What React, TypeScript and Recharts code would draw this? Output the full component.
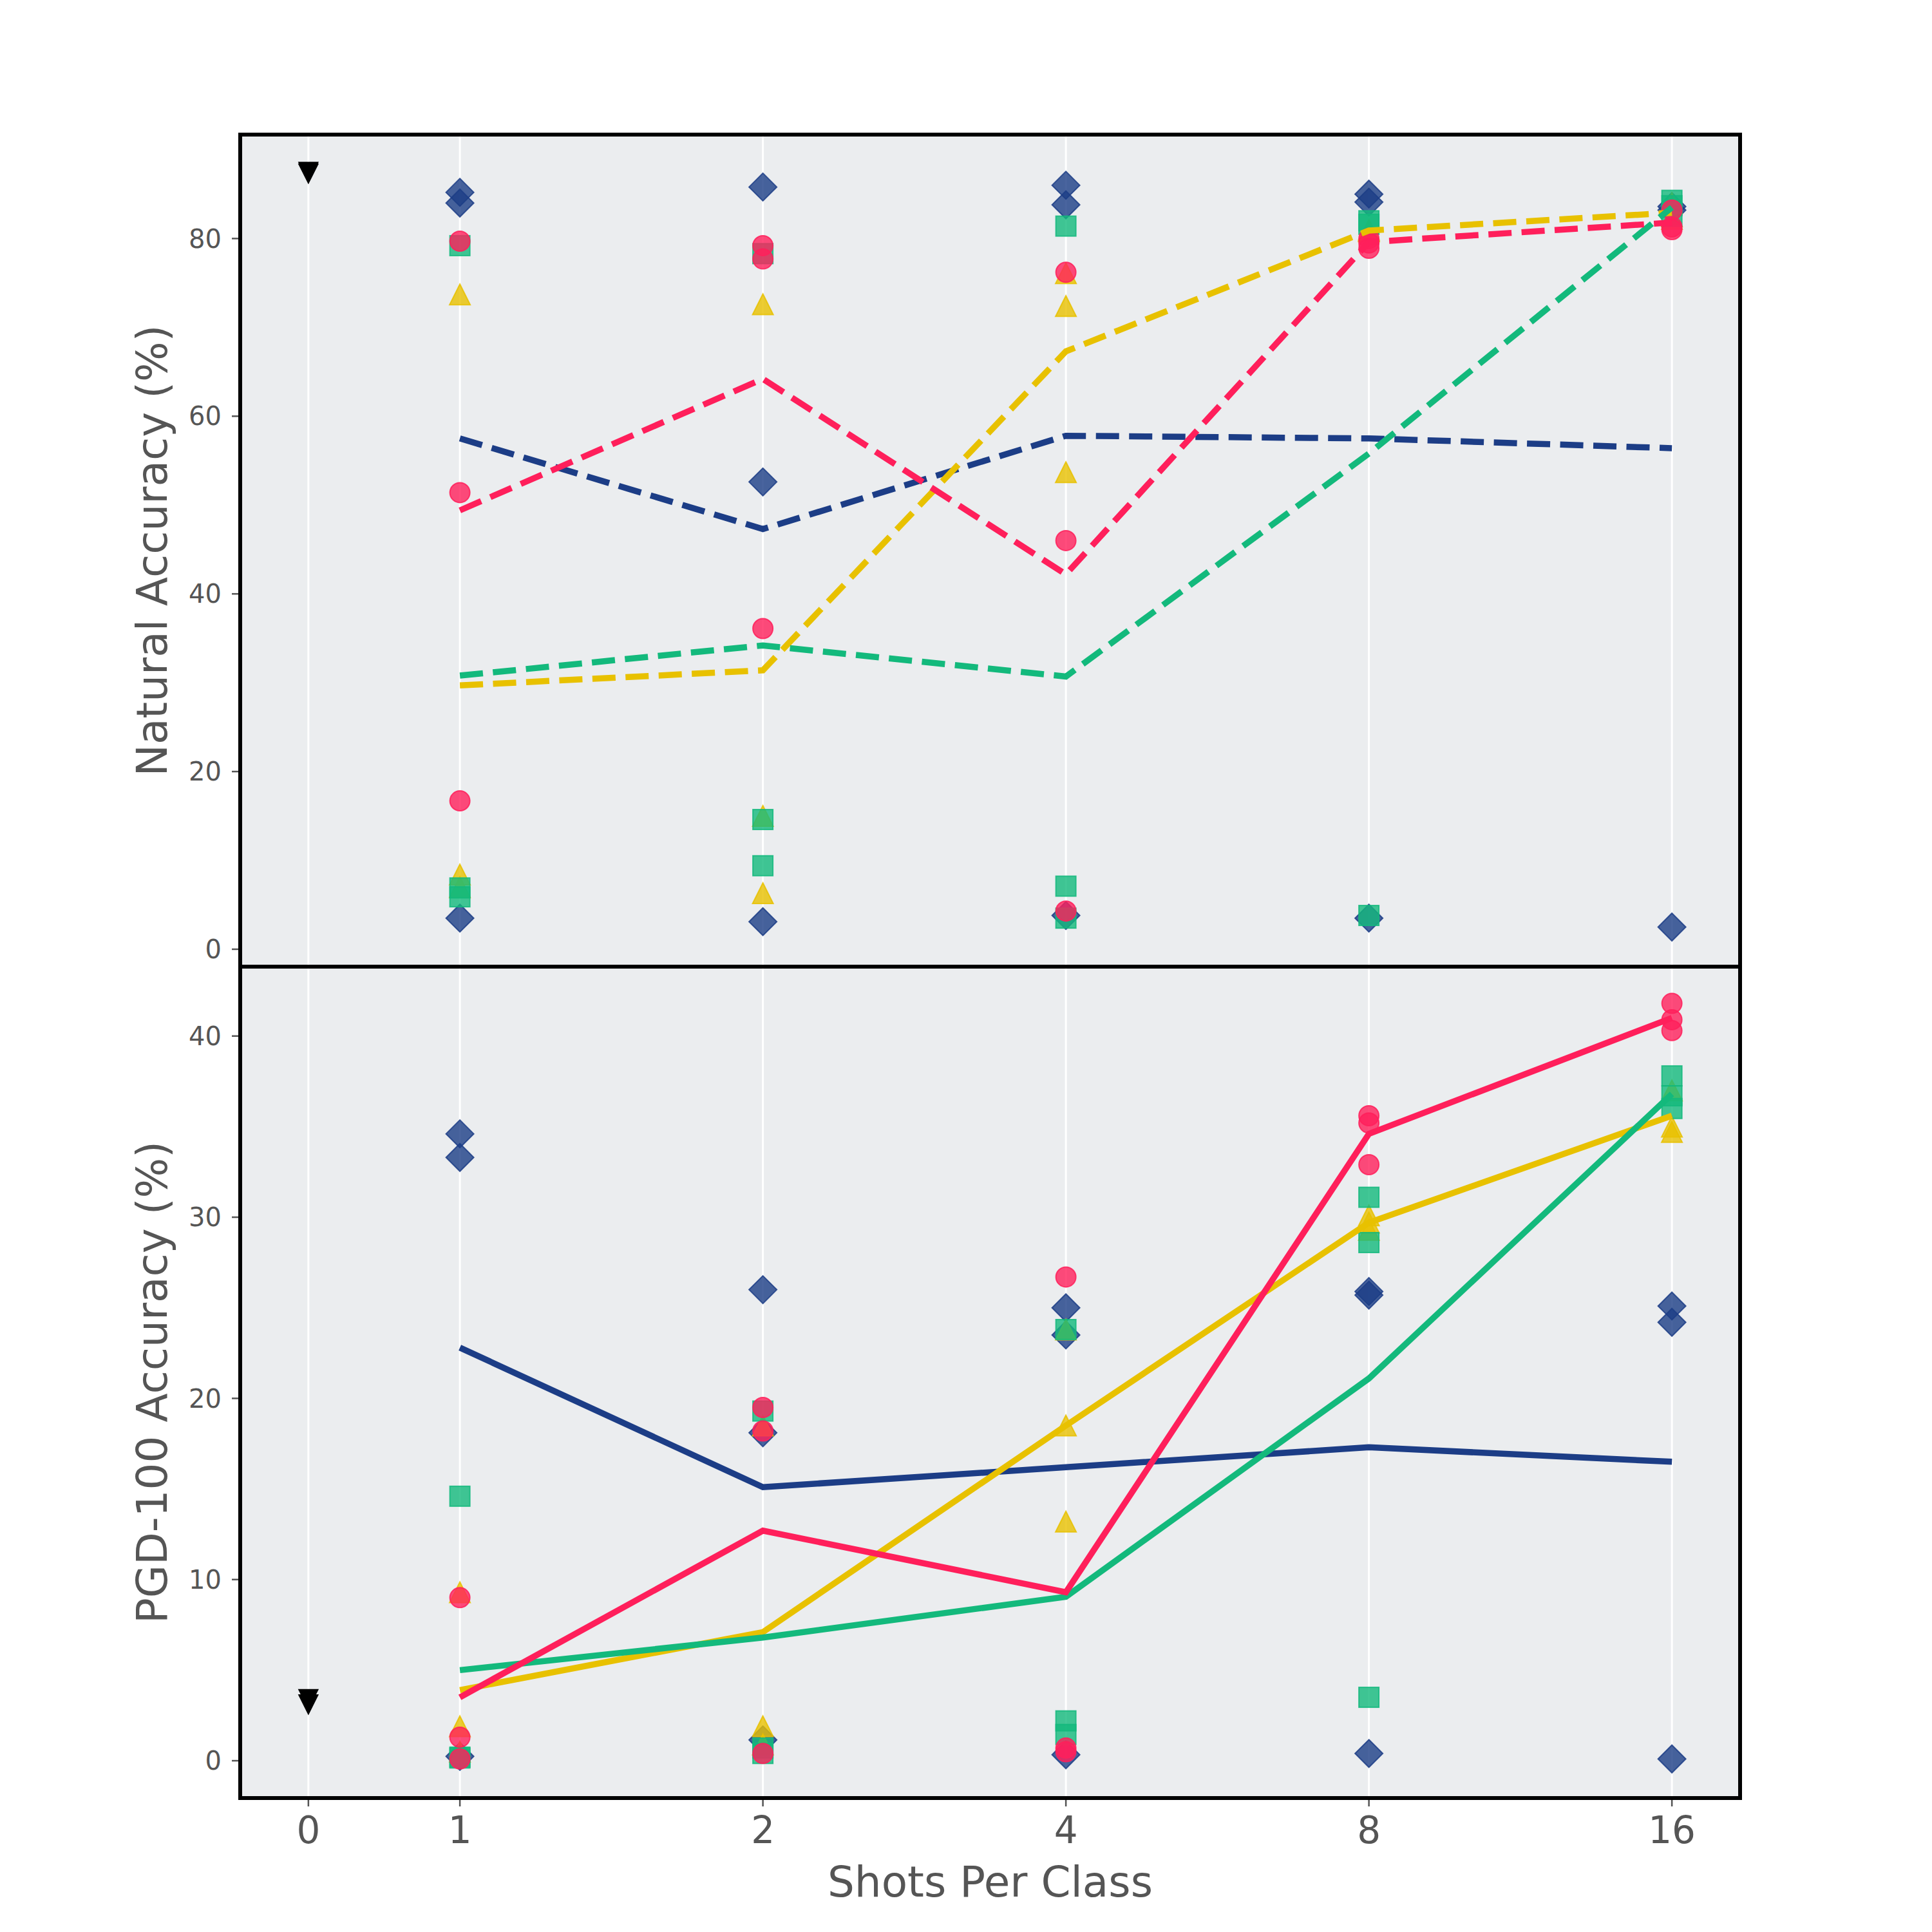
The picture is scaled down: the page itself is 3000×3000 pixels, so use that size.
import React from 'react';
import { ComposedChart, XAxis, YAxis, Scatter, Line, ReferenceLine, ReferenceArea, Label } from 'recharts';

const FONT = '"DejaVu Sans", Verdana, sans-serif';

// x axis: shots per class (0 = zero-shot baseline)
const shotValues = [0, 1, 2, 4, 8, 16];
const xTickLabels = ['0', '1', '2', '4', '8', '16'];
const fewShots = [1, 2, 4, 8, 16];

// Natural accuracy (%), three runs per shot count
const natDiamond = [[85.2, 84.0, 3.5], [85.8, 52.6, 3.1], [86.0, 83.8, 3.8], [85.0, 84.1, 3.5], [83.6, 83.2, 2.5]];
const natTriangle = [[73.7, 8.4, 7.0], [72.6, 15.0, 6.3], [76.1, 72.4, 53.7], [81.0, 80.9, 80.8], [84.0, 82.5, 82.2]];
const natSquare = [[79.2, 6.9, 5.9], [78.3, 14.6, 9.4], [81.4, 7.1, 3.5], [82.0, 81.6, 3.8], [84.3, 83.7, 82.5]];
const natCircle = [[79.7, 51.4, 16.7], [79.2, 77.7, 36.1], [76.2, 46.0, 4.3], [80.0, 79.5, 78.9], [83.2, 81.3, 81.0]];
const natBaseline = [87.5, 87.3];

const natDiamondMean = [57.5, 47.3, 57.8, 57.5, 56.4];
const natTriangleMean = [29.7, 31.4, 67.3, 80.9, 82.9];
const natSquareMean = [30.8, 34.2, 30.7, 55.8, 83.5];
const natCircleMean = [49.4, 64.2, 42.2, 79.6, 81.8];

// PGD-100 accuracy (%), three runs per shot count
const pgdDiamond = [[34.6, 33.3, 0.24], [26.0, 18.1, 1.15], [25.0, 23.5, 0.33], [25.9, 25.7, 0.4], [25.1, 24.2, 0.1]];
const pgdTriangle = [[9.3, 1.9, 0.5], [18.5, 1.9, 0.9], [23.8, 18.5, 13.2], [30.1, 29.7, 29.3], [37.0, 35.0, 34.7]];
const pgdSquare = [[14.6, 0.2, 0.15], [19.3, 0.7, 0.4], [23.8, 2.2, 1.45], [31.1, 28.6, 3.5], [37.8, 36.7, 36.0]];
const pgdCircle = [[9.0, 1.3, 0.1], [19.5, 18.2, 0.4], [26.7, 0.7, 0.5], [35.6, 35.2, 32.9], [41.8, 40.9, 40.3]];
const pgdBaseline = [3.4, 3.1];

const pgdDiamondMean = [22.8, 15.1, 16.2, 17.3, 16.5];
const pgdTriangleMean = [3.9, 7.1, 18.5, 29.7, 35.6];
const pgdSquareMean = [5.0, 6.8, 9.05, 21.1, 36.8];
const pgdCircleMean = [3.5, 12.7, 9.3, 34.6, 41.0];

const natTicks = [0, 20, 40, 60, 80];
const pgdTicks = [0, 10, 20, 30, 40];

const NAVY = '#1c3d86';
const RED = '#ff1f5b';
const YELLOW = '#e8c100';
const GREEN = '#13b97c';
const PLOT_BG = '#ebedef';
const TEXT = '#555555';

// log2 scale for shots, with the zero-shot point placed half a step left of 1
const shotToX = (s: number) => (s === 0 ? -0.5 : Math.log2(s));
const xTicks = shotValues.map(shotToX);
const xDomain: [number, number] = [-0.725, 4.225];
const natDomain: [number, number] = [-1.96, 91.7];
const pgdDomain: [number, number] = [-2.06, 43.83];

const toPoints = (runs: number[][]) =>
  runs.flatMap((vals, i) => vals.map((v) => ({ x: shotToX(fewShots[i]), y: v })));
const toLine = (means: number[]) => means.map((v, i) => ({ x: shotToX(fewShots[i]), y: v }));
const toBaseline = (vals: number[]) => vals.map((v) => ({ x: shotToX(0), y: v }));

const mk = { fillOpacity: 0.8, strokeOpacity: 0.85, strokeWidth: 2 };

const DiamondShape = (p: any) => {
  const { cx, cy } = p;
  const r = 21.5;
  return <polygon points={`${cx},${cy - r} ${cx + r},${cy} ${cx},${cy + r} ${cx - r},${cy}`} fill={NAVY} stroke={NAVY} {...mk} />;
};
const CircleShape = (p: any) => <circle cx={p.cx} cy={p.cy} r={15.5} fill={RED} stroke={RED} {...mk} />;
const SquareShape = (p: any) => (
  <rect x={p.cx - 15.5} y={p.cy - 15.5} width={31} height={31} fill={GREEN} stroke={GREEN} {...mk} />
);
const TriangleShape = (p: any) => {
  const { cx, cy } = p;
  const h = 16;
  return <polygon points={`${cx},${cy - h} ${cx + h},${cy + h} ${cx - h},${cy + h}`} fill={YELLOW} stroke={YELLOW} {...mk} />;
};
const DownTriangleShape = (p: any) => {
  const { cx, cy } = p;
  const h = 15;
  return <polygon points={`${cx - h},${cy - h} ${cx + h},${cy - h} ${cx},${cy + h}`} fill="#000" stroke="#000" strokeWidth={1.5} />;
};

const yLabel = (text: string) => (props: any) => {
  const vb = props.viewBox || {};
  const cy = (vb.y ?? 0) + (vb.height ?? 0) / 2;
  const x = (vb.x ?? 0) + 259;
  return (
    <text x={x} y={cy} transform={`rotate(-90 ${x} ${cy})`} textAnchor="middle" fill={TEXT} fontSize={66} fontFamily={FONT}>
      {text}
    </text>
  );
};

const xLabel = (text: string) => (props: any) => {
  const vb = props.viewBox || {};
  const cx = (vb.x ?? 0) + (vb.width ?? 0) / 2;
  const y = (vb.y ?? 0) + 153;
  return (
    <text x={cx} y={y} textAnchor="middle" fill={TEXT} fontSize={66} fontFamily={FONT}>
      {text}
    </text>
  );
};

interface PanelProps {
  diamond: number[][];
  triangle: number[][];
  square: number[][];
  circle: number[][];
  baseline: number[];
  diamondMean: number[];
  triangleMean: number[];
  squareMean: number[];
  circleMean: number[];
  dashed: boolean;
}

const renderPanel = (p: PanelProps, yDomain: [number, number]) => {
  const dash = p.dashed ? '36 15.5' : undefined;
  const lw = 9.5;
  return [
    <ReferenceArea key="bg" x1={xDomain[0]} x2={xDomain[1]} y1={yDomain[0]} y2={yDomain[1]} fill={PLOT_BG} fillOpacity={1} stroke="none" ifOverflow="visible" zIndex={-200} />,
    ...xTicks.map((t) => (
      <ReferenceLine key={`g${t}`} x={t} stroke="#ffffff" strokeWidth={3} ifOverflow="visible" zIndex={-150} />
    )),
    <Scatter key="sd" data={toPoints(p.diamond)} dataKey="y" shape={DiamondShape} isAnimationActive={false} zIndex={600} />,
    <Scatter key="st" data={toPoints(p.triangle)} dataKey="y" shape={TriangleShape} isAnimationActive={false} zIndex={601} />,
    <Scatter key="ss" data={toPoints(p.square)} dataKey="y" shape={SquareShape} isAnimationActive={false} zIndex={602} />,
    <Scatter key="sc" data={toPoints(p.circle)} dataKey="y" shape={CircleShape} isAnimationActive={false} zIndex={603} />,
    <Scatter key="sb" data={toBaseline(p.baseline)} dataKey="y" shape={DownTriangleShape} isAnimationActive={false} zIndex={604} />,
    <Line key="ld" data={toLine(p.diamondMean)} dataKey="y" stroke={NAVY} strokeWidth={lw} strokeDasharray={dash} dot={false} activeDot={false} isAnimationActive={false} zIndex={700} />,
    <Line key="lt" data={toLine(p.triangleMean)} dataKey="y" stroke={YELLOW} strokeWidth={lw} strokeDasharray={dash} dot={false} activeDot={false} isAnimationActive={false} zIndex={701} />,
    <Line key="ls" data={toLine(p.squareMean)} dataKey="y" stroke={GREEN} strokeWidth={lw} strokeDasharray={dash} dot={false} activeDot={false} isAnimationActive={false} zIndex={702} />,
    <Line key="lc" data={toLine(p.circleMean)} dataKey="y" stroke={RED} strokeWidth={lw} strokeDasharray={dash} dot={false} activeDot={false} isAnimationActive={false} zIndex={703} />,
    <ReferenceArea key="frame" x1={xDomain[0]} x2={xDomain[1]} y1={yDomain[0]} y2={yDomain[1]} fill="none" stroke="#000000" strokeWidth={6} ifOverflow="visible" zIndex={1500} />,
  ];
};

const yTickStyle = { fill: TEXT, fontSize: 40, fontFamily: FONT };
const xTickStyle = { fill: TEXT, fontSize: 58, fontFamily: FONT };
const tickLineStyle = { stroke: TEXT, strokeWidth: 2.5 };

export default function App() {
  return (
    <div style={{ position: 'absolute', left: 0, top: 0, width: 3000, height: 3000, background: '#ffffff' }}>
      <div style={{ position: 'absolute', left: 0, top: 0 }}>
        <ComposedChart width={3000} height={1501} margin={{ top: 209, right: 298, bottom: 0, left: 0 }}>
          <XAxis type="number" dataKey="x" domain={xDomain} allowDataOverflow hide ticks={xTicks} />
          <YAxis
            type="number"
            dataKey="y"
            domain={natDomain}
            allowDataOverflow
            ticks={natTicks}
            width={373}
            axisLine={false}
            tickSize={13}
            tickMargin={16}
            tick={yTickStyle}
            tickLine={tickLineStyle}
          >
            <Label content={yLabel('Natural Accuracy (%)')} />
          </YAxis>
          {renderPanel(
            {
              diamond: natDiamond,
              triangle: natTriangle,
              square: natSquare,
              circle: natCircle,
              baseline: natBaseline,
              diamondMean: natDiamondMean,
              triangleMean: natTriangleMean,
              squareMean: natSquareMean,
              circleMean: natCircleMean,
              dashed: true,
            },
            natDomain
          )}
        </ComposedChart>
      </div>
      <div style={{ position: 'absolute', left: 0, top: 1501 }}>
        <ComposedChart width={3000} height={1499} margin={{ top: 0, right: 298, bottom: 0, left: 0 }}>
          <XAxis
            type="number"
            dataKey="x"
            domain={xDomain}
            allowDataOverflow
            ticks={xTicks}
            interval={0}
            tickFormatter={(v: number) => xTickLabels[xTicks.indexOf(v)] ?? ''}
            height={208}
            axisLine={false}
            tickSize={13}
            tickMargin={16}
            tick={xTickStyle}
            tickLine={tickLineStyle}
          >
            <Label content={xLabel('Shots Per Class')} />
          </XAxis>
          <YAxis
            type="number"
            dataKey="y"
            domain={pgdDomain}
            allowDataOverflow
            ticks={pgdTicks}
            width={373}
            axisLine={false}
            tickSize={13}
            tickMargin={16}
            tick={yTickStyle}
            tickLine={tickLineStyle}
          >
            <Label content={yLabel('PGD-100 Accuracy (%)')} />
          </YAxis>
          {renderPanel(
            {
              diamond: pgdDiamond,
              triangle: pgdTriangle,
              square: pgdSquare,
              circle: pgdCircle,
              baseline: pgdBaseline,
              diamondMean: pgdDiamondMean,
              triangleMean: pgdTriangleMean,
              squareMean: pgdSquareMean,
              circleMean: pgdCircleMean,
              dashed: false,
            },
            pgdDomain
          )}
        </ComposedChart>
      </div>
    </div>
  );
}
